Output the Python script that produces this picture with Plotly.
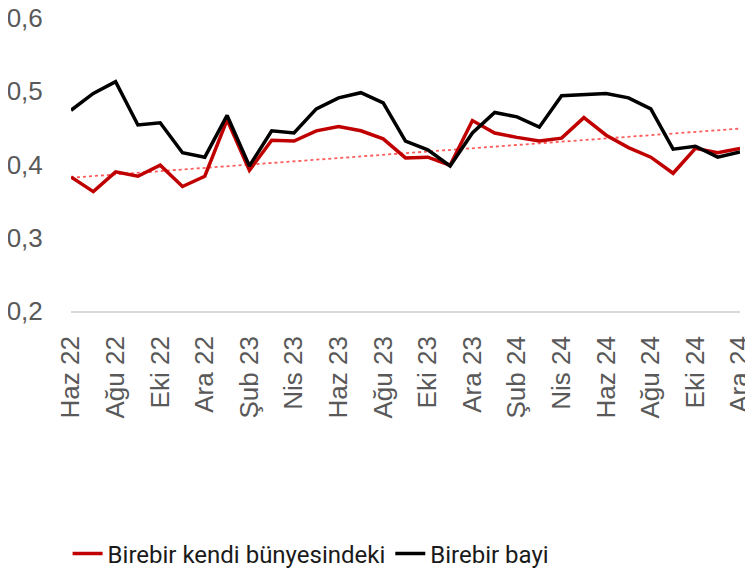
import plotly.graph_objects as go

# monthly series, Jun 2022 - Dec 2024
months = ["Oca", "Şub", "Mar", "Nis", "May", "Haz", "Tem", "Ağu", "Eyl", "Eki", "Kas", "Ara"]
labels = []
for yr in [22, 23, 24]:
    for m in months:
        labels.append(f"{m} {yr}")
labels = labels[5:]  # start at Haz 22

kendi = [0.383, 0.363, 0.390, 0.384, 0.399, 0.370, 0.384, 0.461, 0.392, 0.433, 0.432,
         0.446, 0.452, 0.446, 0.435, 0.409, 0.410, 0.399, 0.460, 0.443, 0.437, 0.432,
         0.436, 0.464, 0.440, 0.423, 0.410, 0.388, 0.422, 0.416, 0.422]
bayi = [0.474, 0.497, 0.513, 0.454, 0.457, 0.416, 0.410, 0.467, 0.398, 0.446, 0.443,
        0.476, 0.491, 0.498, 0.484, 0.432, 0.420, 0.398, 0.443, 0.471, 0.465, 0.451,
        0.494, 0.495, 0.497, 0.491, 0.476, 0.421, 0.425, 0.410, 0.417]

# trend line (as drawn on the chart), first and last month
trend_x = [labels[0], labels[-1]]
trend_y = [0.382, 0.449]

fig = go.Figure()

fig.add_trace(go.Scatter(
    x=trend_x, y=trend_y, mode="lines",
    line=dict(color="#FF5B5B", width=1.8, dash="dot"),
    showlegend=False, hoverinfo="skip"
))

fig.add_trace(go.Scatter(
    x=labels, y=kendi, mode="lines", name="Birebir kendi bünyesindeki",
    line=dict(color="#C00000", width=3.5)
))

fig.add_trace(go.Scatter(
    x=labels, y=bayi, mode="lines", name="Birebir bayi",
    line=dict(color="#000000", width=3.5)
))

# page body adds an 8px offset, so the figure is a bit smaller
fig.update_layout(
    width=745,
    height=560,
    autosize=False,
    margin=dict(l=63, r=13, t=10, b=257),
    template="plotly_white",
    plot_bgcolor="white",
    paper_bgcolor="white",
    separators=", ",
    font=dict(family="Liberation Sans, Arial, sans-serif", size=26, color="#595959"),
    legend=dict(
        orientation="h",
        xref="container", yref="container",
        x=0.08, y=0.025, xanchor="left", yanchor="middle",
        font=dict(family="Roboto, sans-serif", size=24, color="#1A1A1A"),
        itemwidth=30,
    ),
)

fig.update_xaxes(
    type="category",
    categoryorder="array",
    categoryarray=labels,
    tickmode="array",
    tickvals=labels[::2],
    ticktext=labels[::2],
    tickangle=-90,
    showgrid=False,
    showline=True,
    linecolor="#D9D9D9",
    linewidth=1.5,
    ticks="outside",
    ticklen=13,
    tickcolor="rgba(0,0,0,0)",
    range=[0, len(labels) - 1],
    zeroline=False,
    automargin=False,
    ticklabeloverflow="allow",
)

fig.update_yaxes(
    range=[0.2, 0.6],
    tickvals=[0.2, 0.3, 0.4, 0.5, 0.6],
    tickformat=".1f",
    showgrid=False,
    zeroline=False,
    showline=False,
    ticks="outside",
    ticklen=22,
    tickcolor="rgba(0,0,0,0)",
    automargin=False,
    ticklabeloverflow="allow",
)

fig.write_html("out.html")
